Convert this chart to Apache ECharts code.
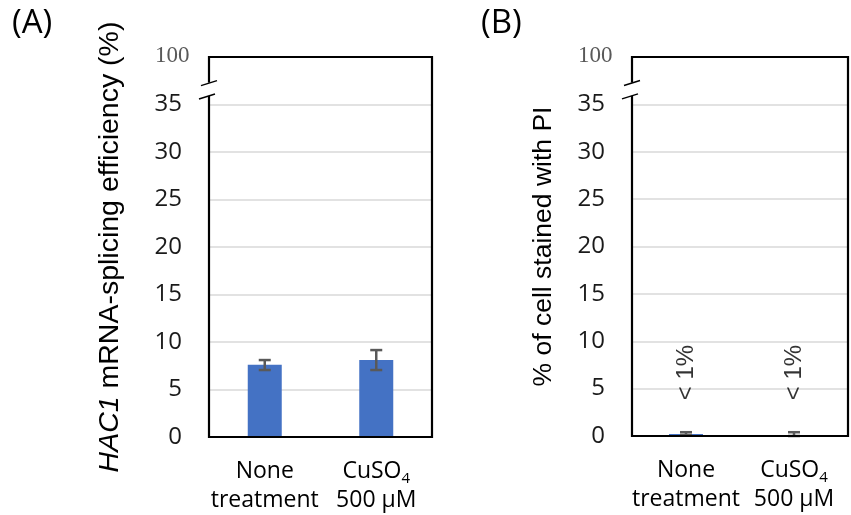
<!DOCTYPE html>
<html><head><meta charset="utf-8">
<script src="https://cdn.jsdelivr.net/npm/echarts@6/dist/echarts.min.js"></script>
<style>html,body{margin:0;padding:0;background:#fff}#c{width:851px;height:515px}</style>
</head><body><div id="c"></div>
<script>
// ---- data ----
const categories = ['None\ntreatment', 'CuSO4\n500 μM'];
const yMin = 0, yMax = 40, yStep = 5;      // axis scale (top tick shown as "100" after the break)
const topTickLabel = '100';
const spliceMean = [7.6, 8.1];
const spliceLow  = [7.05, 7.05];
const spliceHigh = [8.1, 9.15];
const piMean = [0.2, 0.1];
const piLow  = [0.1, 0.0];
const piHigh = [0.4, 0.4];
const piNote  = ['< 1%', '< 1%'];
const piNoteY = [6.7, 6.7];
const breakFrom = 35.9, breakTo = 37.3;   // axis-break gap (value units)
const panelLabels = ['(A)', '(B)'];
const titleA = '{i|HAC1} mRNA-splicing efficiency (%)';
const titleB = '% of cell stained with PI';

// ---- layout ----
const grids = [
  {left: 209, right: 419, top: 57, bottom: 78},
  {left: 632, right: 3, top: 57, bottom: 79}
];
const BLUE = '#4472C4', ERR = '#595959';

const chart = echarts.init(document.getElementById('c'), null, {renderer: 'canvas'});

function catFormatter(v) {
  return v.split('\n').map(l => l === 'CuSO4' ? '{t|CuSO}{s|4}' : '{t|' + l + '}').join('\n');
}
function xAxis(i) {
  return {
    type: 'category', gridIndex: i, data: categories,
    axisLine: {show: false}, axisTick: {show: false},
    axisLabel: {
      margin: 20, formatter: catFormatter, interval: 0,
      rich: {
        t: {fontFamily: 'Open Sans', fontSize: 23, color: '#000', lineHeight: 29},
        s: {fontFamily: 'Open Sans', fontSize: 15, color: '#000', lineHeight: 29, verticalAlign: 'bottom'}
      }
    }
  };
}
function yAxis(i, name, gap, fs) {
  return {
    type: 'value', gridIndex: i, min: yMin, max: yMax, interval: yStep,
    axisLine: {show: false}, axisTick: {show: false},
    splitLine: {lineStyle: {color: '#d9d9d9', width: 1.5}},
    axisLabel: {
      margin: 27, align: 'right', fontFamily: 'Open Sans', fontSize: 24, color: '#1a1a1a',
      formatter: v => v === yMax ? '' : String(v)
    },
    name: name, nameLocation: 'middle', nameGap: gap, nameRotate: 90,
    nameTextStyle: {
      fontFamily: 'Liberation Sans', fontSize: fs, color: '#000',
      rich: {i: {fontFamily: 'Liberation Sans', fontSize: fs, fontStyle: 'italic', color: '#000'}}
    }
  };
}
function errSeries(i, lows, highs) {
  return {
    type: 'custom', xAxisIndex: i, yAxisIndex: i, z: 5,
    data: lows.map((l, k) => [k, l, highs[k]]),
    renderItem: (params, api) => {
      const lo = api.coord([api.value(0), api.value(1)]);
      const hi = api.coord([api.value(0), api.value(2)]);
      const hw = 6, st = {stroke: ERR, lineWidth: 2.5};
      return {type: 'group', children: [
        {type: 'line', shape: {x1: lo[0], y1: lo[1], x2: hi[0], y2: hi[1]}, style: st},
        {type: 'line', shape: {x1: hi[0] - hw, y1: hi[1], x2: hi[0] + hw, y2: hi[1]}, style: st},
        {type: 'line', shape: {x1: lo[0] - hw, y1: lo[1], x2: lo[0] + hw, y2: lo[1]}, style: st}
      ]};
    }
  };
}

chart.setOption({
  animation: false,
  grid: grids.map(g => Object.assign({show: false}, g)),
  xAxis: [xAxis(0), xAxis(1)],
  yAxis: [yAxis(0, titleA, 84, 28.5), yAxis(1, titleB, 75, 26.5)],
  series: [
    {type: 'bar', xAxisIndex: 0, yAxisIndex: 0, data: spliceMean, barWidth: 34, itemStyle: {color: BLUE}},
    errSeries(0, spliceLow, spliceHigh),
    {type: 'bar', xAxisIndex: 1, yAxisIndex: 1, data: piMean, barWidth: 34, itemStyle: {color: BLUE}},
    errSeries(1, piLow, piHigh),
    {type: 'scatter', xAxisIndex: 1, yAxisIndex: 1, symbolSize: 0,
     data: piNote.map((t, k) => [k, piNoteY[k], t]),
     label: {show: true, position: 'inside', rotate: 90, formatter: p => p.value[2],
             fontFamily: 'Liberation Sans', fontSize: 24, color: '#000', textBorderWidth: 0}}
  ]
});

// decorations derived from axes: frame, "100" top label, axis break, panel letters
const gfx = [];
grids.forEach((g, i) => {
  const yTop = chart.convertToPixel({yAxisIndex: i}, yMax);
  const yBot = chart.convertToPixel({yAxisIndex: i}, yMin);
  const yA = chart.convertToPixel({yAxisIndex: i}, breakTo);
  const yB = chart.convertToPixel({yAxisIndex: i}, breakFrom);
  const x = g.left, xr = 851 - g.right;
  gfx.push({type: 'rect', shape: {x: x, y: yTop, width: xr - x, height: yBot - yTop},
    style: {fill: 'none', stroke: '#000', lineWidth: 2.2}, z: 90});
  gfx.push({type: 'text', left: x - 17 - 37, top: yTop - 13,
    style: {text: topTickLabel, fontFamily: 'Liberation Serif', fontSize: 23, fill: '#595959'}});
  gfx.push({type: 'rect', shape: {x: x - 4, y: yA, width: 8, height: yB - yA}, style: {fill: '#fff'}, z: 100});
  gfx.push({type: 'line', shape: {x1: x - 8, y1: yA + 3, x2: x + 8, y2: yA - 2}, style: {stroke: '#000', lineWidth: 1.5}, z: 101});
  gfx.push({type: 'line', shape: {x1: x - 10, y1: yB + 3, x2: x + 6, y2: yB - 2}, style: {stroke: '#000', lineWidth: 1.5}, z: 101});
});
gfx.push({type: 'text', left: 12, top: 7, style: {text: panelLabels[0], fontFamily: 'Open Sans', fontSize: 33, fill: '#000'}});
gfx.push({type: 'text', left: 481, top: 7, style: {text: panelLabels[1], fontFamily: 'Open Sans', fontSize: 33, fill: '#000'}});
chart.setOption({graphic: gfx});
</script>
</body></html>
